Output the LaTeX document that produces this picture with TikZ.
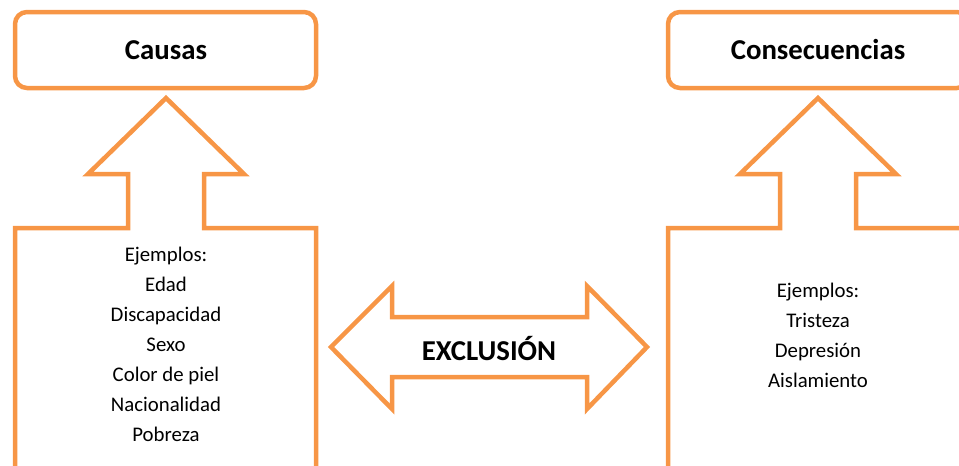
\documentclass[tikz,border=0pt]{standalone}
\usepackage{fontspec}
\setmainfont{Carlito}
\definecolor{acc}{HTML}{F79646}
\begin{document}
\begin{tikzpicture}[x=1pt,y=-1pt,
  outl/.style={draw=acc,line width=4.5pt,line join=miter},
  title/.style={font=\fontsize{28.8}{34}\selectfont\bfseries,text=black},
  body/.style={font=\fontsize{20.8}{30}\selectfont,align=center,text=black}]
\useasboundingbox (0,0) rectangle (959,466);
\clip (0,0) rectangle (959,466);
% left column
\draw[outl,rounded corners=12pt] (15,12) rectangle (316,88);
\node[title] (causas) at (166,50) {Causas};
\draw[outl] (15,490) -- (15,228) -- (128,228) -- (128,174) -- (88,174) -- (166,98)
  -- (244,174) -- (204,174) -- (204,228) -- (316,228) -- (316,490);
\node[body] (ejl) at (166,344) {Ejemplos:\\Edad\\Discapacidad\\Sexo\\Color de piel\\Nacionalidad\\Pobreza};
% right column
\draw[outl,rounded corners=12pt] (668,12) rectangle (969,88);
\node[title] (cons) at (818,50) {Consecuencias};
\draw[outl] (668,490) -- (668,228) -- (780,228) -- (780,174) -- (740,174) -- (818,98)
  -- (896,174) -- (856,174) -- (856,228) -- (975,228);
\node[body] (ejr) at (818,335) {Ejemplos:\\Tristeza\\Depresión\\Aislamiento};
% double arrow
\draw[outl] (331,347) -- (392,286) -- (392,317) -- (587,317) -- (587,286) -- (647,347)
  -- (587,409) -- (587,377) -- (392,377) -- (392,409) -- cycle;
\node[title] (excl) at (489,349) {EXCLUSIÓN};
\end{tikzpicture}
\end{document}
